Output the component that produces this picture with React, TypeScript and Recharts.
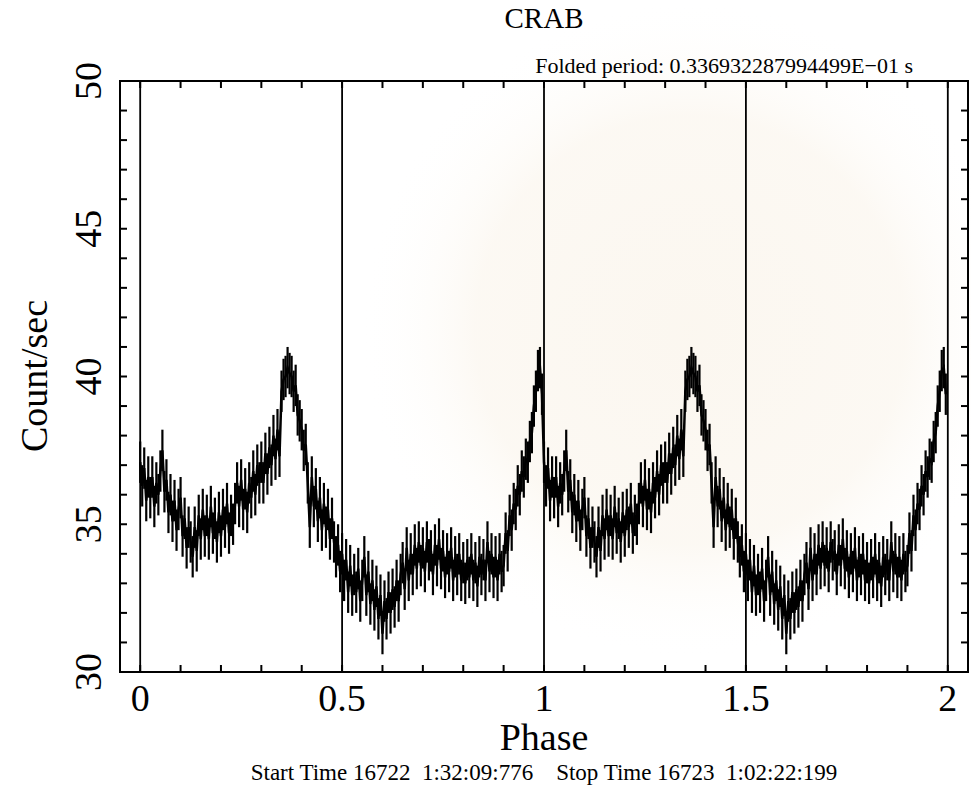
import React from "react";
import {
  LineChart,
  Line,
  XAxis,
  YAxis,
  ErrorBar,
  ReferenceLine,
  ReferenceArea,
} from "recharts";

// Folded light curve, one period, 200 bins (0.005 in phase each). Plotted twice.
const BIN_WIDTH = 0.005;
const CYCLES = [0, 1];
const RATE = [
  // 0.00 - 0.095
  37.1, 36.3, 36.9, 35.8, 36.6, 35.9, 36.6, 35.6, 36.4, 36.0, 36.8, 37.5, 36.1, 36.5, 35.4, 36.0, 35.1, 35.8, 34.8, 35.5,
  // 0.10 - 0.195
  35.9, 34.6, 35.2, 34.2, 34.9, 34.4, 33.9, 34.9, 34.1, 35.3, 34.5, 35.5, 34.6, 35.3, 34.5, 35.6, 34.7, 35.2, 34.4, 35.4,
  // 0.20 - 0.295
  34.6, 35.5, 34.9, 35.7, 34.7, 35.3, 35.0, 35.7, 36.4, 35.6, 36.5, 35.5, 36.2, 35.4, 36.4, 35.9, 36.8, 36.0, 37.0, 36.4,
  // 0.30 - 0.395
  37.1, 36.4, 37.4, 36.7, 37.6, 37.0, 38.0, 37.2, 38.2, 37.3, 39.5, 39.9, 40.0, 40.3, 40.1, 40.0, 39.5, 39.7, 38.7, 38.5,
  // 0.40 - 0.495
  38.2, 37.5, 37.7, 36.4, 34.9, 36.6, 35.6, 36.2, 35.1, 35.9, 34.8, 35.7, 34.9, 35.5, 34.5, 35.2, 34.4, 33.9, 34.3, 33.4,
  // 0.50 - 0.595
  34.0, 33.1, 33.8, 32.7, 33.6, 32.6, 33.3, 32.7, 33.5, 32.4, 33.1, 33.9, 32.6, 33.4, 32.3, 33.1, 32.1, 32.9, 31.8, 32.6,
  // 0.60 - 0.695
  31.3, 32.4, 31.8, 32.7, 32.0, 32.8, 32.2, 33.1, 32.4, 33.3, 33.7, 32.8, 34.2, 33.1, 34.0, 33.3, 34.3, 33.5, 34.4, 33.6,
  // 0.70 - 0.795
  34.2, 33.4, 34.4, 33.8, 34.1, 33.3, 34.3, 33.6, 34.5, 33.5, 34.1, 33.2, 34.0, 33.4, 34.2, 33.1, 33.9, 33.3, 34.0, 33.1,
  // 0.80 - 0.895
  33.7, 33.0, 33.8, 33.2, 34.0, 33.1, 33.7, 32.9, 33.9, 33.3, 33.8, 33.1, 34.4, 33.4, 34.0, 33.2, 33.9, 33.1, 34.0, 33.4,
  // 0.90 - 0.995
  33.6, 34.7, 34.1, 35.3, 34.8, 35.7, 35.5, 36.3, 36.0, 36.8, 36.6, 37.2, 37.1, 37.8, 38.1, 39.0, 39.5, 40.2, 40.3, 39.4,
];
const RATE_ERR = 0.7;

const X_TICKS = [
  0, 0.1, 0.2, 0.3, 0.4, 0.5, 0.6, 0.7, 0.8, 0.9, 1, 1.1, 1.2, 1.3, 1.4, 1.5, 1.6, 1.7, 1.8, 1.9, 2,
];
const X_LABELS = [0, 0.5, 1, 1.5, 2];
const Y_TICKS = [
  30, 31, 32, 33, 34, 35, 36, 37, 38, 39, 40, 41, 42, 43, 44, 45, 46, 47, 48, 49, 50,
];
const Y_LABELS = [30, 35, 40, 45, 50];

const data = CYCLES.flatMap((c) =>
  RATE.map((rate, i) => ({
    phase: Math.round((c + i * BIN_WIDTH) * 1000) / 1000,
    rate,
    err: RATE_ERR,
  }))
);

const W = 971;
const H = 785;
const X_AXIS_H = 60;
const Y_AXIS_W = 60;
// plot box: x 120..968, y 81..672
const MARGIN = { top: 81, right: 3, bottom: 113 - X_AXIS_H, left: 120 - Y_AXIS_W };
const TOP = 81;
const BOTTOM = 672;
const LEFT = 120;
const RIGHT = 968;
const TICK = 7;
const FONT = '"Liberation Serif", "DejaVu Serif", serif';

const near = (a: number, list: number[]) => list.some((b) => Math.abs(a - b) < 1e-6);

function XTick(props: any) {
  const { x, payload } = props;
  const v = payload.value;
  return (
    <g>
      <line x1={x} y1={BOTTOM} x2={x} y2={BOTTOM - TICK} stroke="#000" strokeWidth={2} />
      <line x1={x} y1={TOP} x2={x} y2={TOP + TICK} stroke="#000" strokeWidth={2} />
      {near(v, X_LABELS) && (
        <text x={x} y={711} textAnchor="middle" fontSize={38} fontFamily={FONT} fill="#000">
          {String(v)}
        </text>
      )}
    </g>
  );
}

function YTick(props: any) {
  const { y, payload } = props;
  const v = payload.value;
  return (
    <g>
      <line x1={LEFT} y1={y} x2={LEFT + TICK} y2={y} stroke="#000" strokeWidth={2} />
      <line x1={RIGHT} y1={y} x2={RIGHT - TICK} y2={y} stroke="#000" strokeWidth={2} />
      {near(v, Y_LABELS) && (
        <text
          transform={`translate(101, ${y}) rotate(-90)`}
          textAnchor="middle"
          fontSize={38}
          fontFamily={FONT}
          fill="#000"
        >
          {String(v)}
        </text>
      )}
    </g>
  );
}

export default function App() {
  return (
    <div style={{ position: "absolute", left: 0, top: 0, width: W, height: H, background: "#fff" }}>
      <svg width={W} height={H} style={{ position: "absolute", left: 0, top: 0 }}>
        <defs>
          <radialGradient id="glow" cx={690} cy={330} r={330} gradientUnits="userSpaceOnUse">
            <stop offset="0%" stopColor="#f7eddd" stopOpacity={0.45} />
            <stop offset="65%" stopColor="#f7eddd" stopOpacity={0.35} />
            <stop offset="100%" stopColor="#ffffff" stopOpacity={0} />
          </radialGradient>
        </defs>
        <rect x={0} y={0} width={W} height={H} fill="url(#glow)" />
      </svg>
      <div style={{ position: "absolute", left: 0, top: 0 }}>
        <LineChart width={W} height={H} data={data} margin={MARGIN}>
          <XAxis
            dataKey="phase"
            type="number"
            domain={[-0.05, 2.05]}
            ticks={X_TICKS}
            interval={0}
            allowDataOverflow
            axisLine={false}
            tickLine={false}
            height={X_AXIS_H}
            tick={(p: any) => <XTick {...p} />}
          />
          <YAxis
            type="number"
            domain={[30, 50]}
            ticks={Y_TICKS}
            interval={0}
            allowDataOverflow
            axisLine={false}
            tickLine={false}
            width={Y_AXIS_W}
            tick={(p: any) => <YTick {...p} />}
          />
          <ReferenceArea
            x1={-0.05}
            x2={2.05}
            y1={30}
            y2={50}
            fill="none"
            stroke="#000"
            strokeWidth={2}
            ifOverflow="visible"
          />
          {X_LABELS.map((v) => (
            <ReferenceLine key={v} x={v} stroke="#000" strokeWidth={1.8} />
          ))}
          <Line
            type="linear"
            dataKey="rate"
            stroke="#000"
            strokeWidth={2.5}
            dot={false}
            isAnimationActive={false}
          >
            <ErrorBar dataKey="err" width={0} stroke="#000" strokeWidth={2.2} direction="y" />
          </Line>
        </LineChart>
      </div>
      <svg width={W} height={H} style={{ position: "absolute", left: 0, top: 0, pointerEvents: "none" }}>
        <text x={544} y={28} textAnchor="middle" fontSize={29} fontFamily={FONT} fill="#000">
          CRAB
        </text>
        <text x={913} y={73} textAnchor="end" fontSize={22} fontFamily={FONT} fill="#000">
          Folded period: 0.336932287994499E−01 s
        </text>
        <text
          transform="translate(47, 376) rotate(-90)"
          textAnchor="middle"
          fontSize={38}
          fontFamily={FONT}
          fill="#000"
        >
          Count/sec
        </text>
        <text x={544} y={750} textAnchor="middle" fontSize={38} fontFamily={FONT} fill="#000">
          Phase
        </text>
        <text
          x={544}
          y={780}
          textAnchor="middle"
          fontSize={23}
          fontFamily={FONT}
          fill="#000"
          style={{ whiteSpace: "pre" }}
        >
          {"Start Time 16722  1:32:09:776    Stop Time 16723  1:02:22:199"}
        </text>
      </svg>
    </div>
  );
}
